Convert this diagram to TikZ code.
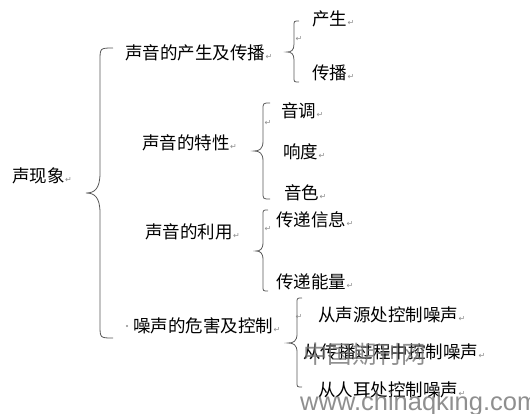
\documentclass[tikz,border=0pt]{standalone}
\usepackage{fontspec}
\newfontfamily\cjk{Noto Sans CJK SC}
\newfontfamily\dejavu{DejaVu Sans}
\newfontfamily\wmfont{Liberation Sans}
\newcommand\pmk{\hspace{0.5pt}{\color{black!45}\dejavu\fontsize{8}{8}\selectfont ↵}}
\newcommand\wbrace[7]{%
  \draw[bracestyle] (#1+#7,#2) .. controls (#1,#2) .. (#1,#2+#7)
    -- (#1,#3-#6) .. controls (#1,#3-0.2*#6) and (#1-0.4*#5,#3) .. (#1-#5,#3)
    .. controls (#1-0.4*#5,#3) and (#1,#3+0.2*#6) .. (#1,#3+#6)
    -- (#1,#4-#7) .. controls (#1,#4) .. (#1+#7,#4);}
\begin{document}
\begin{tikzpicture}[x=1pt,y=-1pt,
  bracestyle/.style={draw=black!65,line width=0.8pt},
  txt/.style={anchor=west,inner sep=0pt,font=\cjk\fontsize{17.5}{20}\selectfont},
  mk/.style={anchor=center,inner sep=0pt,text=black!45,font=\dejavu\fontsize{8}{8}\selectfont},
  wm/.style={inner sep=0pt,text=black!55,opacity=0.8}]
\useasboundingbox (0,0) rectangle (530,413);
% root
\node[txt] (root) at (12,176) {声现象\pmk};
\wbrace{100}{48}{193}{338}{14}{20}{13}
% level 1
\node[txt] (a) at (125,53) {声音的产生及传播\pmk};
\node[txt] (b) at (142,143) {声音的特性\pmk};
\node[txt] (c) at (145,232) {声音的利用\pmk};
\fill[black!45] (127,326) circle (1.2);
\node[txt] (d) at (133,326) {噪声的危害及控制\pmk};
% group a
\wbrace{294}{21}{52}{82}{7}{8}{5}
\node[mk] (ma) at (299,39) {↵};
\node[txt] (a1) at (312,19) {产生\pmk};
\node[txt] (a2) at (312,73) {传播\pmk};
% group b
\wbrace{263}{103}{151}{199}{9}{10}{7}
\node[mk] (mb) at (268,123) {↵};
\node[txt] (b1) at (281,111) {音调\pmk};
\node[txt] (b2) at (283,152) {响度\pmk};
\node[txt] (b3) at (284,193) {音色\pmk};
% group c
\wbrace{263}{210}{251}{291}{7}{9}{5}
\node[mk] (mc) at (268,229) {↵};
\node[txt] (c1) at (276,220) {传递信息\pmk};
\node[txt] (c2) at (276,282) {传递能量\pmk};
% group d
\wbrace{297}{298}{343}{387}{9}{9}{5}
\node[mk] (md) at (299,317) {↵};
\node[txt] (d1) at (318,315) {从声源处控制噪声\pmk};
\node[txt] (d2) at (303,352) {从传播过程中控制噪声\pmk};
\node[txt] (d3) at (318,390) {从人耳处控制噪声\pmk};
% watermark
\node[wm,anchor=west,font=\cjk\fontsize{24.5}{26}\selectfont] (w1) at (303,354) {中国期刊网};
\node[wm,anchor=base west,font=\wmfont\fontsize{25.5}{27}\selectfont] (w2) at (300,410) {www.chinaqking.com};
\end{tikzpicture}
\end{document}
